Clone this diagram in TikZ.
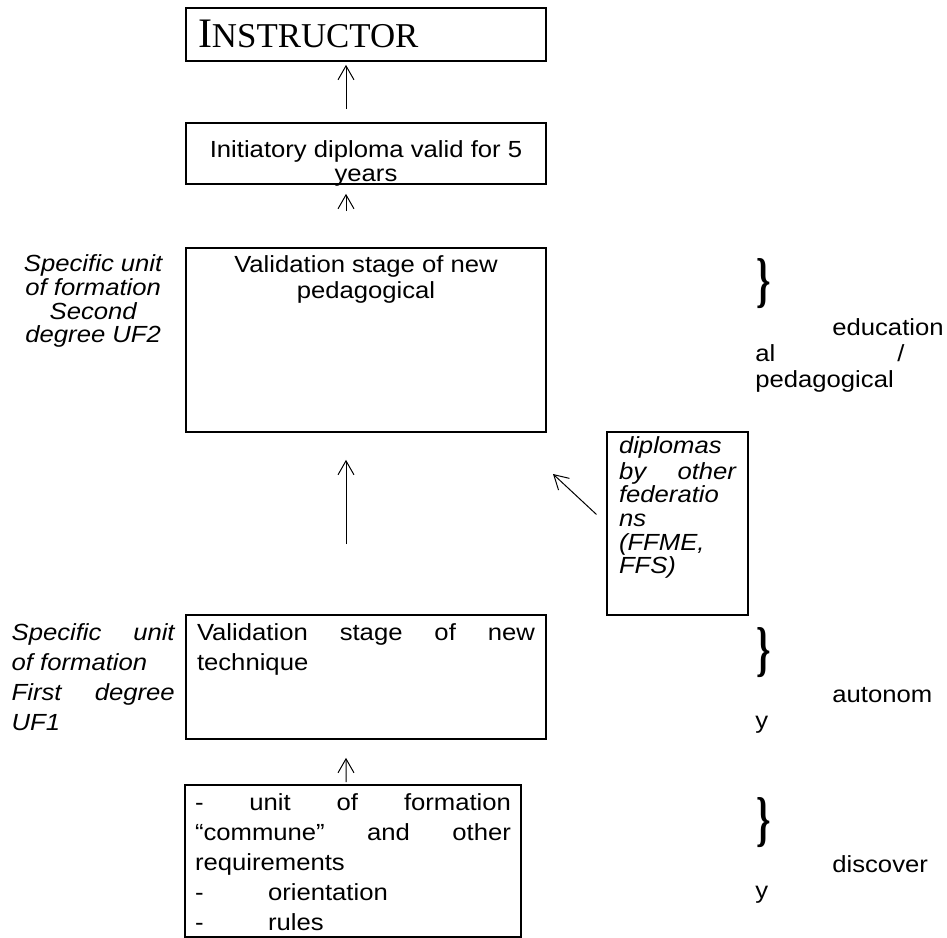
\documentclass[tikz,border=0pt]{standalone}
\usepackage{graphicx}
\usepackage{fontspec}
\setmainfont{Liberation Sans}[FakeStretch=1.1]
\newfontfamily\capsfont{Liberation Serif}
\usetikzlibrary{arrows.meta}
\newdimen\px \px=0.6pt
\newcommand{\boxtext}[4]{\parbox[c][#2\px][t]{#1\px}{\vspace*{#3\px}#4}}

\begin{document}
\begin{tikzpicture}[x=0.6pt, y=-0.6pt,
	unitbox/.style={draw, line width=1pt, inner xsep=6.6pt, inner ysep=0pt, font=\fontsize{14}{14.2}\selectfont},
	widebox/.style={unitbox, font=\fontsize{14}{18}\selectfont},
	arrowup/.style={-{Straight Barb[length=8.4pt, width=9.6pt]}, line width=0.6pt},
	sidelabel/.style={inner sep=0pt, font=\fontsize{14}{14.2}\selectfont\itshape},
	bracemark/.style={inner sep=0pt, font=\capsfont\bfseries\fontsize{22}{22}\selectfont},
	notetext/.style={inner sep=0pt, font=\fontsize{14}{15.6}\selectfont}]
		%%%%% START %%%%%
		\useasboundingbox (0,0) rectangle (947,938);
		
		\node[unitbox, inner xsep=7.2pt] (instr) at (366,34.5) {\boxtext{336}{53}{5}{{\capsfont\fontsize{25.2}{30}\selectfont\strut I\fontsize{20.9}{30}\selectfont NSTRUCTOR}}};
		\node[unitbox] (diploma) at (366,153.5) {\boxtext{338}{61}{17.5}{\centering\strut Initiatory diploma valid for 5\\ years}};
		\node[unitbox] (uftwo) at (366,340) {\boxtext{338}{184}{7.5}{\centering\strut Validation stage of new\\ pedagogical}};
		\node[widebox] (ufone) at (366,677) {\boxtext{338}{124}{4}{\strut Validation\hfill stage\hfill of\hfill new\\ technique}};
		\node[widebox, inner xsep=6pt] (base) at (353,861) {\boxtext{316}{152}{4}{\strut -\hfill unit\hfill of\hfill formation\\ “commune”\hfill and\hfill other\\ requirements\\ \makebox[73\px][l]{-}orientation\\ \makebox[73\px][l]{-}rules}};
		\node[unitbox, inner xsep=7.2pt, font=\fontsize{14}{14.2}\selectfont\itshape] (fed) at (677.5,523.5) {\boxtext{117}{183}{4.5}{\strut diplomas\\ by\hfill other\\ federatio\\ ns\\ (FFME,\\ FFS)}};
		
		\node[sidelabel, anchor=base east] (labtwo) at (175,272) {\parbox[t]{163\px}{\centering Specific unit\\ of formation\\ Second\\ degree UF2}};
		\node[sidelabel, font=\fontsize{14}{18}\selectfont\itshape, anchor=base east] (labone) at (175,640) {\parbox[t]{163\px}{Specific\hfill unit\\ of formation\\ First\hfill degree\\ UF1}};
		
		\node[bracemark] (bredu) at (763.5,284) {\scalebox{1}[1.65]{\}}};
		\node[bracemark] (braut) at (763.5,652.5) {\scalebox{1}[1.65]{\}}};
		\node[bracemark] (brdis) at (763.5,822.5) {\scalebox{1}[1.65]{\}}};
		\node[notetext, anchor=base west] (edu) at (755,335) {\parbox[t]{190\px}{\hspace*{77\px}education\\ \makebox[142\px][l]{al}/\\ pedagogical}};
		\node[notetext, anchor=base west] (aut) at (755,702) {\parbox[t]{190\px}{\hspace*{77\px}autonom\\ y}};
		\node[notetext, anchor=base west] (dis) at (755,872) {\parbox[t]{190\px}{\hspace*{77\px}discover\\ y}};
		
		\draw[arrowup, shorten <=7.8pt, shorten >=1.8pt] ([xshift=-12pt]diploma.north) -- ([xshift=-12pt]instr.south);
		\draw[arrowup, shorten <=21.6pt, shorten >=5.4pt] ([xshift=-12pt]uftwo.north) -- ([xshift=-12pt]diploma.south);
		\draw[arrowup, shorten <=42pt, shorten >=16.2pt] ([xshift=-12pt]ufone.north) -- ([xshift=-12pt]uftwo.south);
		\draw[arrowup, shorten <=1.2pt, shorten >=10.8pt] ([xshift=-4.2pt]base.north) -- ([xshift=-12pt]ufone.south);
		\coordinate (dtip) at (553,474);
		\draw[arrowup, shorten <=8pt] (fed.west) -- (dtip);
		
		%%%%% END %%%%%
\end{tikzpicture}
\end{document}
